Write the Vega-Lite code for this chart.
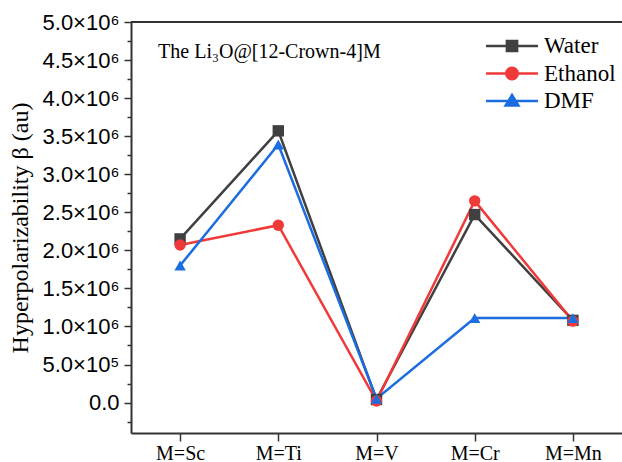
{
  "$schema": "https://vega.github.io/schema/vega-lite/v6.json",
  "width": 491,
  "height": 411,
  "autosize": {"type": "none"},
  "padding": {"left": 131, "top": 22, "right": 0, "bottom": 29},
  "background": "white",
  "config": {"view": {"stroke": null}},
  "datasets": {
    "beta": [
      {"metal": "M=Sc", "solvent": "Water", "beta": 2150000},
      {"metal": "M=Ti", "solvent": "Water", "beta": 3570000},
      {"metal": "M=V", "solvent": "Water", "beta": 40000},
      {"metal": "M=Cr", "solvent": "Water", "beta": 2470000},
      {"metal": "M=Mn", "solvent": "Water", "beta": 1080000},
      {"metal": "M=Sc", "solvent": "Ethanol", "beta": 2070000},
      {"metal": "M=Ti", "solvent": "Ethanol", "beta": 2330000},
      {"metal": "M=V", "solvent": "Ethanol", "beta": 20000},
      {"metal": "M=Cr", "solvent": "Ethanol", "beta": 2650000},
      {"metal": "M=Mn", "solvent": "Ethanol", "beta": 1070000},
      {"metal": "M=Sc", "solvent": "DMF", "beta": 1800000},
      {"metal": "M=Ti", "solvent": "DMF", "beta": 3390000},
      {"metal": "M=V", "solvent": "DMF", "beta": 50000},
      {"metal": "M=Cr", "solvent": "DMF", "beta": 1110000},
      {"metal": "M=Mn", "solvent": "DMF", "beta": 1110000}
    ],
    "note": [{"label": "The Li₃O@[12-Crown-4]M", "metal": "M=Sc", "beta": 4610000}]
  },
  "resolve": {"axis": {"y": "independent", "x": "independent"}},
  "layer": [
    {
      "data": {"name": "beta"},
      "mark": {"type": "line", "strokeWidth": 2.5},
      "encoding": {
        "x": {"field": "metal", "type": "ordinal", "sort": ["M=Sc", "M=Ti", "M=V", "M=Cr", "M=Mn"],
              "scale": {"type": "point", "padding": 0.5, "domain": ["M=Sc", "M=Ti", "M=V", "M=Cr", "M=Mn"]}, "axis": null},
        "y": {"field": "beta", "type": "quantitative",
              "scale": {"domain": [-400000, 5000000], "nice": false, "zero": false},
              "axis": {"orient": "left", "values": [-250000, 250000, 750000, 1250000, 1750000, 2250000, 2750000, 3250000, 3750000, 4250000, 4750000],
                       "labels": false, "domain": false, "grid": false, "tickSize": 4, "tickWidth": 1.5, "tickColor": "#333333", "title": null}},
        "color": {"field": "solvent", "type": "nominal",
                  "scale": {"domain": ["Water", "Ethanol", "DMF"], "range": ["#404040", "#f03a3a", "#1c6de0"]},
                  "legend": {"orient": "none", "legendX": 344, "legendY": 10, "title": null,
                             "labelFont": "Liberation Serif", "labelFontSize": 23, "labelColor": "#000000",
                             "symbolSize": 650, "symbolStrokeWidth": 2.5, "symbolOffset": 23, "labelOffset": 18, "rowPadding": 1.5,
                             "encode": {"symbols": {"update": {
                               "shape": {"signal": "datum.value === 'Water' ? 'M-2.04,0L2.04,0M-0.4,-0.4L0.4,-0.4L0.4,0.4L-0.4,0.4Z' : (datum.value === 'Ethanol' ? 'M-2.04,0L2.04,0M0.45,0A0.45,0.45,0,1,1,-0.45,0A0.45,0.45,0,1,1,0.45,0Z' : 'M-2.04,0L2.04,0M0,-0.47L0.5,0.35L-0.5,0.35Z')"},
                               "stroke": {"scale": "color", "field": "value"},
                               "fill": {"scale": "color", "field": "value"},
                               "strokeWidth": {"value": 2.5},
                               "opacity": {"value": 1}
                             }}}}},
        "detail": {"field": "solvent"}
      }
    },
    {
      "data": {"name": "beta"},
      "mark": {"type": "point", "filled": true, "opacity": 1, "size": 130},
      "encoding": {
        "x": {"field": "metal", "type": "ordinal", "sort": ["M=Sc", "M=Ti", "M=V", "M=Cr", "M=Mn"],
              "scale": {"type": "point", "padding": 0.5, "domain": ["M=Sc", "M=Ti", "M=V", "M=Cr", "M=Mn"]},
              "axis": {"title": null, "labelAngle": 0, "labelFont": "Liberation Serif", "labelFontSize": 20, "labelColor": "#000000",
                       "labelPadding": 2, "tickSize": 8, "tickWidth": 1.5, "tickColor": "#333333",
                       "domainColor": "#333333", "domainWidth": 2}},
        "y": {"field": "beta", "type": "quantitative",
              "scale": {"domain": [-400000, 5000000], "nice": false, "zero": false},
              "axis": {"orient": "left", "values": [0, 500000, 1000000, 1500000, 2000000, 2500000, 3000000, 3500000, 4000000, 4500000, 5000000],
                       "labelExpr": "datum.value == 0 ? '0.0' : (datum.value < 1000000 ? format(datum.value/100000, '.1f') + '×10⁵' : format(datum.value/1000000, '.1f') + '×10⁶')",
                       "labelFont": "Liberation Sans", "labelFontSize": 22, "labelColor": "#000000", "labelPadding": 5,
                       "tickSize": 7, "tickWidth": 1.5, "tickColor": "#333333", "domainColor": "#333333", "domainWidth": 2,
                       "grid": false, "title": "Hyperpolarizability β (au)", "titleFont": "Liberation Serif", "titleFontSize": 24,
                       "titleFontWeight": "normal", "titleColor": "#000000", "titlePadding": 9}},
        "color": {"field": "solvent", "type": "nominal",
                  "scale": {"domain": ["Water", "Ethanol", "DMF"], "range": ["#404040", "#f03a3a", "#1c6de0"]},
                  "legend": {"orient": "none", "legendX": 344, "legendY": 10, "title": null,
                             "labelFont": "Liberation Serif", "labelFontSize": 23, "labelColor": "#000000",
                             "symbolSize": 650, "symbolStrokeWidth": 2.5, "symbolOffset": 23, "labelOffset": 18, "rowPadding": 1.5,
                             "encode": {"symbols": {"update": {
                               "shape": {"signal": "datum.value === 'Water' ? 'M-2.04,0L2.04,0M-0.4,-0.4L0.4,-0.4L0.4,0.4L-0.4,0.4Z' : (datum.value === 'Ethanol' ? 'M-2.04,0L2.04,0M0.45,0A0.45,0.45,0,1,1,-0.45,0A0.45,0.45,0,1,1,0.45,0Z' : 'M-2.04,0L2.04,0M0,-0.47L0.5,0.35L-0.5,0.35Z')"},
                               "stroke": {"scale": "color", "field": "value"},
                               "fill": {"scale": "color", "field": "value"},
                               "strokeWidth": {"value": 2.5},
                               "opacity": {"value": 1}
                             }}}}},
        "shape": {"condition": [{"test": "datum.solvent === 'Water'", "value": "square"},
                                {"test": "datum.solvent === 'Ethanol'", "value": "circle"}],
                  "value": "triangle-up"}
      }
    },
    {
      "data": {"name": "note"},
      "mark": {"type": "text", "font": "Liberation Serif", "fontSize": 20, "align": "left", "baseline": "middle", "dx": -22, "color": "#000000"},
      "encoding": {
        "x": {"field": "metal", "type": "ordinal", "sort": ["M=Sc", "M=Ti", "M=V", "M=Cr", "M=Mn"],
              "scale": {"type": "point", "padding": 0.5, "domain": ["M=Sc", "M=Ti", "M=V", "M=Cr", "M=Mn"]}, "axis": null},
        "y": {"field": "beta", "type": "quantitative", "axis": null},
        "text": {"field": "label"}
      }
    },
    {
      "data": {"values": [{"top": 5000000}]},
      "mark": {"type": "rule", "color": "#333333", "strokeWidth": 2},
      "encoding": {
        "y": {"field": "top", "type": "quantitative", "axis": null}
      }
    }
  ]
}
